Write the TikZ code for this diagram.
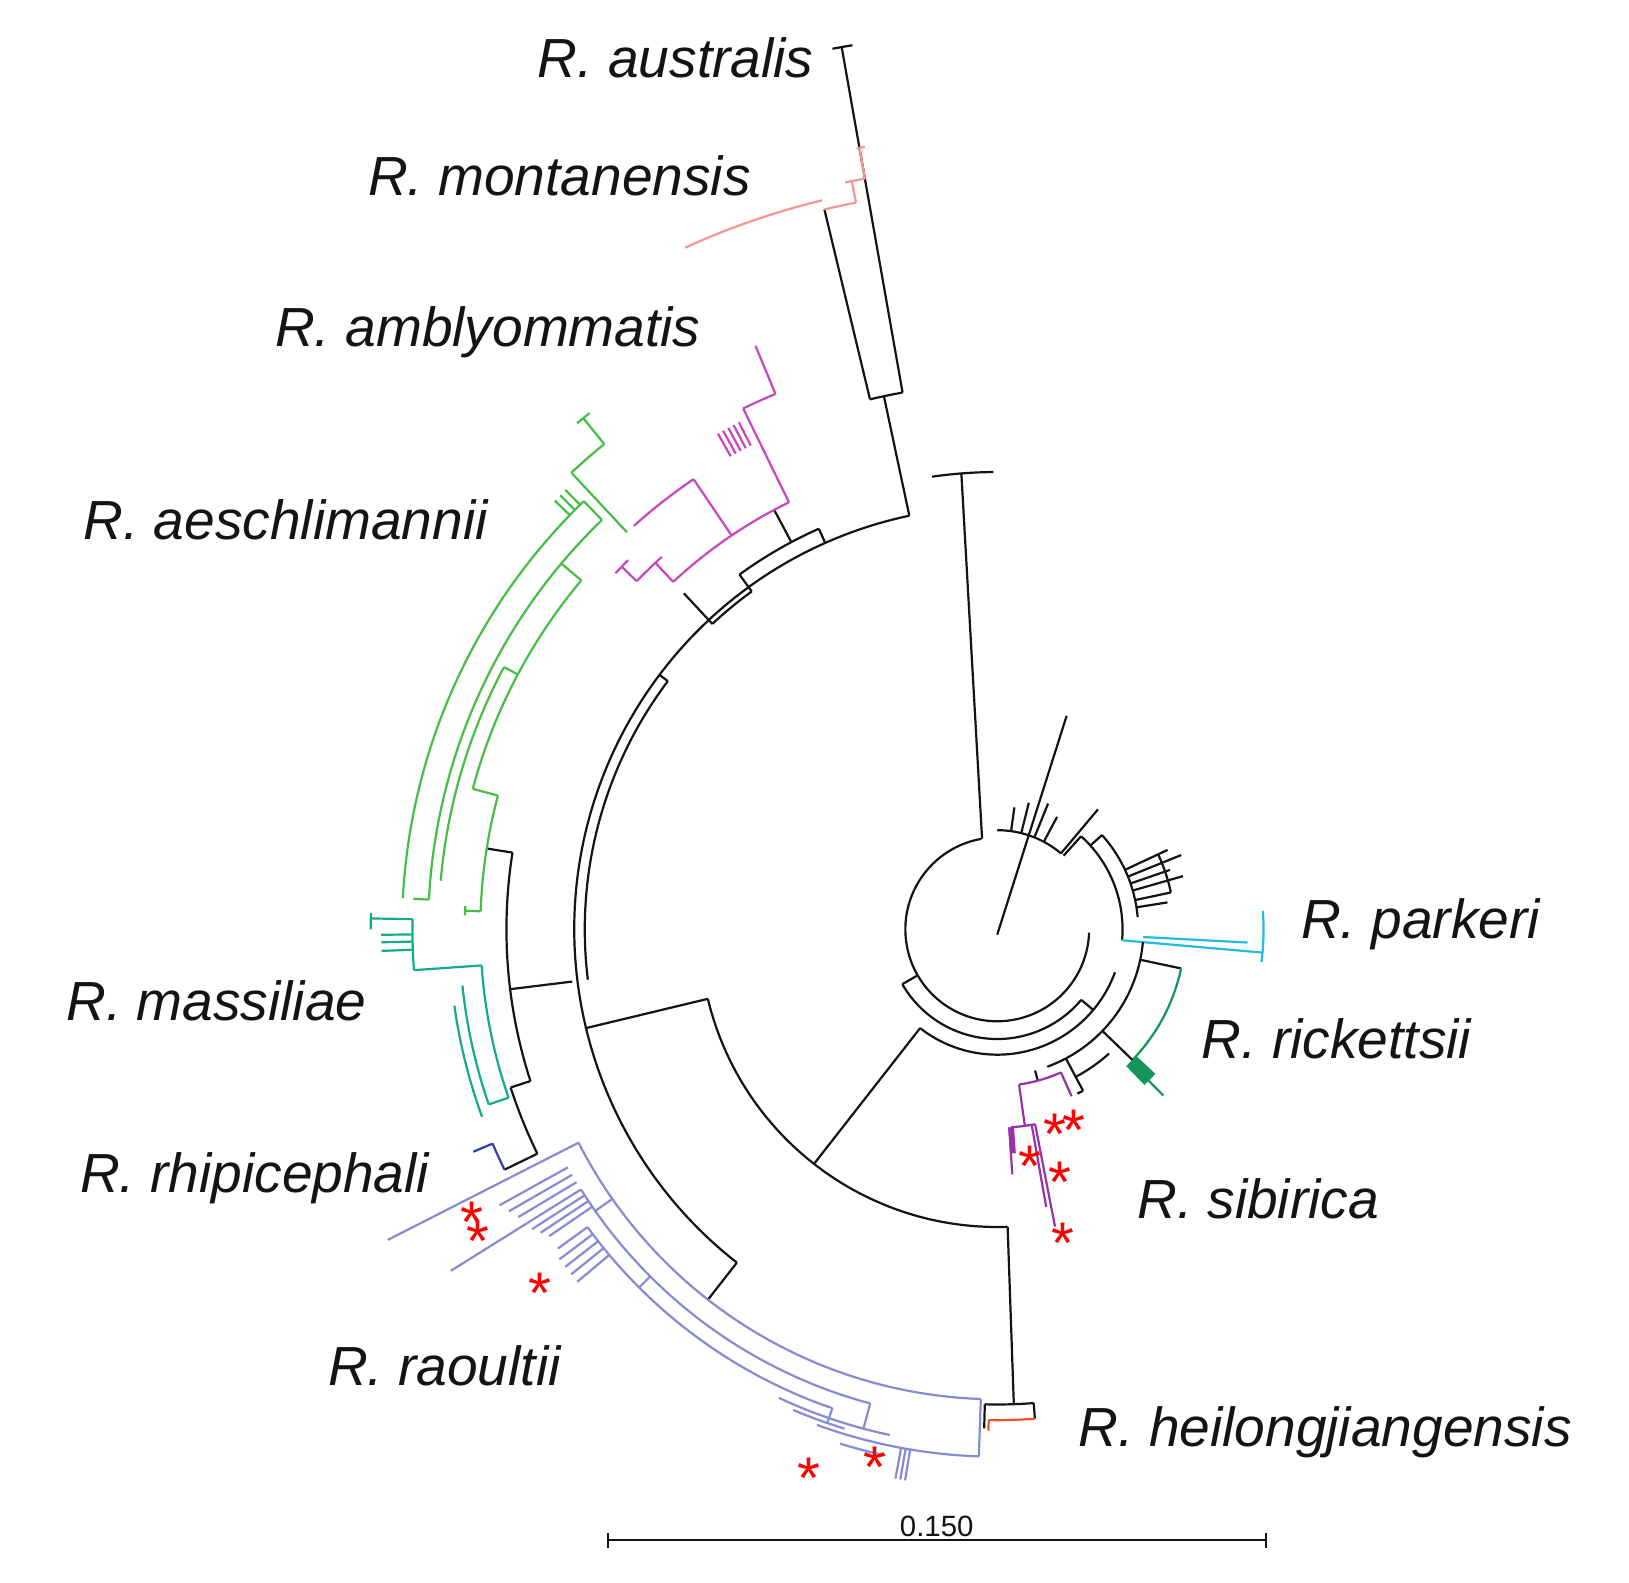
\documentclass[tikz,border=0pt]{standalone}
\usepackage{fontspec}
\setmainfont{Liberation Sans}
\definecolor{cblk}{RGB}{20,20,20}
\definecolor{cpink}{RGB}{245,150,150}
\definecolor{cmag}{RGB}{200,70,190}
\definecolor{cgrn}{RGB}{70,190,70}
\definecolor{cteal}{RGB}{20,170,140}
\definecolor{cdblue}{RGB}{50,60,170}
\definecolor{clav}{RGB}{135,140,210}
\definecolor{cred}{RGB}{240,80,40}
\definecolor{ccyan}{RGB}{30,190,220}
\definecolor{crick}{RGB}{20,150,90}
\definecolor{cpur}{RGB}{150,50,170}
\newcommand\Rl[4][]{\draw[#1] (#2:#3) -- (#2:#4);}
\newcommand\Ac[4][]{\draw[#1] (#3:#2) arc[start angle=#3,end angle=#4,radius=#2];}
\tikzset{lab/.style={font=\fontsize{15}{18}\selectfont\itshape, inner sep=0pt},
  star/.style={text=red,font=\fontsize{16}{16}\selectfont,inner sep=0pt,yshift=-3pt}}
\begin{document}
\begin{tikzpicture}[x=0.01cm,y=-0.01cm,line width=0.6pt,cblk]
\useasboundingbox (0,0) rectangle (1560,1515);
\fill[white] (0,0) rectangle (1560,1515);
\begin{scope}[shift={(955,890)},yscale=-1]
% root ring
\Ac{88}{100}{358}
\draw (0,-5) -- (72:215);
\draw (99.5:88) -- (94.5:438);
\Ac{438}{90.5}{98.2}
\Ac{95}{50}{90}
\Rl{82}{95}{118}\Rl{76}{95}{125}\Rl{68}{95}{130}\Rl{62}{95}{122}\Rl{50}{95}{150}
\Ac{105}{210}{320}\Rl{210}{88}{105}
\Ac{120}{232}{340}\Rl{320}{105}{120}
% big left clade
\Rl{232}{120}{285}
\Ac{285}{193.5}{272}
\Rl{193.5}{285}{405}
\Ac{405}{102}{232}
\Ac{395}{143}{187}\Rl{143}{395}{405}
% australis / montanensis
\Rl{102}{405}{522}
\Ac{522}{100}{103.5}
\Rl{100}{522}{858}
\Ac{858}{99.3}{100.6}
\Rl{103.5}{522}{709}
\Ac[cpink]{709}{101}{103.5}
\Ac[cpink]{718}{103.5}{114.6}
\Rl[cpink]{101}{709}{730}
\Ac[cpink]{730}{100}{101.5}
\Rl[cpink]{100}{730}{760}
\Ac[cpink]{760}{99.6}{100.2}
% amblyommatis
\Rl{114}{405}{420}
\Ac{420}{114}{126}
\Rl{126}{420}{400}
\Ac{400}{126}{133}
\Rl{133}{400}{440}
\Rl{118}{420}{455}
\Ac[cmag]{455}{116}{133}
\Rl[cmag]{116}{455}{555}
\Ac[cmag]{555}{112.5}{116}
\Rl[cmag]{112.5}{555}{605}
\foreach \a in {117,117.6,118.2,118.8,119.4}{\Rl[cmag]{\a}{520}{545}}
\Rl[cmag]{124}{455}{520}
\Ac[cmag]{520}{124}{132}
\Rl[cmag]{133}{455}{480}
\Ac[cmag]{480}{132}{136}
\Rl[cmag]{136}{480}{500}
\Ac[cmag]{500}{135}{137}
% green / massiliae black backbone
\Rl{187}{410}{470}
\Ac{470}{171}{198}
\Rl{171}{470}{495}
\Rl{198}{470}{490}
\Ac{490}{198}{206}
\Rl{206}{490}{525}
% aeschlimannii (green)
\Ac[cgrn]{495}{165}{178}
\Rl[cgrn]{178}{495}{510}\Ac[cgrn]{510}{177.5}{178.5}
\Rl[cgrn]{165}{495}{520}
\Ac[cgrn]{520}{140}{165}
\Rl[cgrn]{140}{520}{545}
\Ac[cgrn]{545}{134}{177}
\Rl[cgrn]{177}{545}{560}
\Rl[cgrn]{134}{545}{570}
\Ac[cgrn]{570}{134}{177}
\Rl[cgrn]{152}{520}{535}\Ac[cgrn]{535}{152}{175}
\Rl[cgrn]{133}{520}{598}
\Ac[cgrn]{598}{129}{133}
\Rl[cgrn]{129}{598}{630}
\Ac[cgrn]{630}{128.3}{129.7}
\foreach \a in {134.5,135.2,135.9}{\Rl[cgrn]{\a}{570}{590}}
% massiliae (teal)
\Ac[cteal]{495}{184}{199}
\Rl[cteal]{184}{495}{560}
\Ac[cteal]{560}{179}{184}
\Rl[cteal]{179}{560}{600}
\Ac[cteal]{600}{178.5}{180}
\foreach \a in {180.5,181.2,182}{\Rl[cteal]{\a}{560}{590}}
\Rl[cteal]{199}{495}{515}
\Ac[cteal]{515}{186}{199}
\Ac[cteal]{525}{188}{200}
% rhipicephali
\Ac[cdblue]{525}{203}{206}
\Rl[cdblue]{203}{525}{545}
% raoultii
\Rl{232}{405}{450}
\Ac[clav]{450}{207}{268}
\Rl[clav]{207}{450}{655}
\Rl[clav]{268}{450}{505}
\Ac[clav]{505}{250}{268}
\foreach \a in {259.5,260,260.5}{\Rl[clav]{\a}{505}{535}}
\Rl[clav]{215}{450}{470}
\Ac[clav]{470}{212}{255}
\Rl[clav]{255}{470}{495}
\Ac[clav]{495}{245}{258}
\Rl[clav]{212}{470}{617}
\Rl[clav]{225}{470}{485}
\Ac[clav]{485}{216}{251}
\Rl[clav]{251}{485}{500}
\Ac[clav]{500}{247}{253}
\Rl[clav]{216}{485}{520}
\foreach \a/\r in {209/545,210/540,211/535,212.8/530,213.6/525,214.4/520}{\Rl[clav]{\a}{470}{\r}}
\foreach \a in {217,218,219,220}{\Rl[clav]{\a}{485}{525}}
\Ac[clav]{515}{253}{258}
% heilongjiangensis
\Rl{272}{285}{455}
\Ac{455}{268.5}{274.4}
\Rl{268.5}{455}{478}\Rl{274.4}{455}{470}
\Ac[cred]{470}{269}{274.4}
\Rl[cred]{269}{470}{480}
% parkeri / right rings
\Ac{120}{48}{-5}
\Rl{48}{95}{120}
\Ac{135}{42}{5}
\Rl{42}{120}{135}
\foreach \a/\r in {25/180,22/190,19/175,16/185,12/170,9/165}{\Rl{\a}{135}{\r}}
\Ac{170}{12}{25}
\Rl[ccyan]{-5}{120}{255}
\Rl[ccyan]{-3}{140}{240}
\Ac[ccyan]{255}{4}{-7}
% rickettsii
\Ac{140}{-5}{-70}
\Rl{-12}{140}{180}
\Ac[crick]{180}{-12}{-44}
\Rl{-44}{140}{180}
\foreach \a in {-43,-44,-45,-46}{\Rl[crick,line width=1.2pt]{\a}{180}{205}}
\Rl[crick]{-45}{180}{225}
\Ac{160}{-48}{-62}
\Rl{-62}{140}{175}\Ac{175}{-62}{-64}
% sibirica
\Rl{-75}{140}{150}
\Ac[cpur]{150}{-82}{-66}
\Rl[cpur]{-66}{150}{175}
\Rl[cpur]{-82}{150}{190}
\Ac[cpur]{190}{-86}{-79}
\Rl[cpur,line width=1.6pt]{-86}{190}{215}
\Rl[cpur]{-86.5}{190}{235}
\Rl[cpur]{-79}{190}{290}
\Rl[cpur]{-80}{190}{270}
\end{scope}
% stars
\foreach \p in {(452,1160),(458,1178),(517,1228),(775,1405),(838,1395),(986,1106),(1010,1076),(1028,1072),(1015,1122),(1018,1180)}{\node[star] at \p {*};}
% labels
\node[lab,anchor=east] at (780,55) {R. australis};
\node[lab,anchor=east] at (720,168) {R. montanensis};
\node[lab,anchor=east] at (672,318) {R. amblyommatis};
\node[lab,anchor=east] at (468,498) {R. aeschlimannii};
\node[lab,anchor=east] at (352,958) {R. massiliae};
\node[lab,anchor=east] at (412,1128) {R. rhipicephali};
\node[lab,anchor=east] at (538,1308) {R. raoultii};
\node[lab,anchor=west] at (1032,1372) {R. heilongjiangensis};
\node[lab,anchor=west] at (1245,885) {R. parkeri};
\node[lab,anchor=west] at (1150,995) {R. rickettsii};
\node[lab,anchor=west] at (1088,1148) {R. sibirica};
% scale bar
\coordinate (sb1) at (582,1475); \coordinate (sb2) at (1212,1475);
\draw (sb1) -- (sb2);
\draw (582,1468) -- (582,1482); \draw (1212,1468) -- (1212,1482);
\node[font=\fontsize{8}{10}\selectfont,inner sep=0pt] at (897,1462) {0.150};
\end{tikzpicture}
\end{document}
